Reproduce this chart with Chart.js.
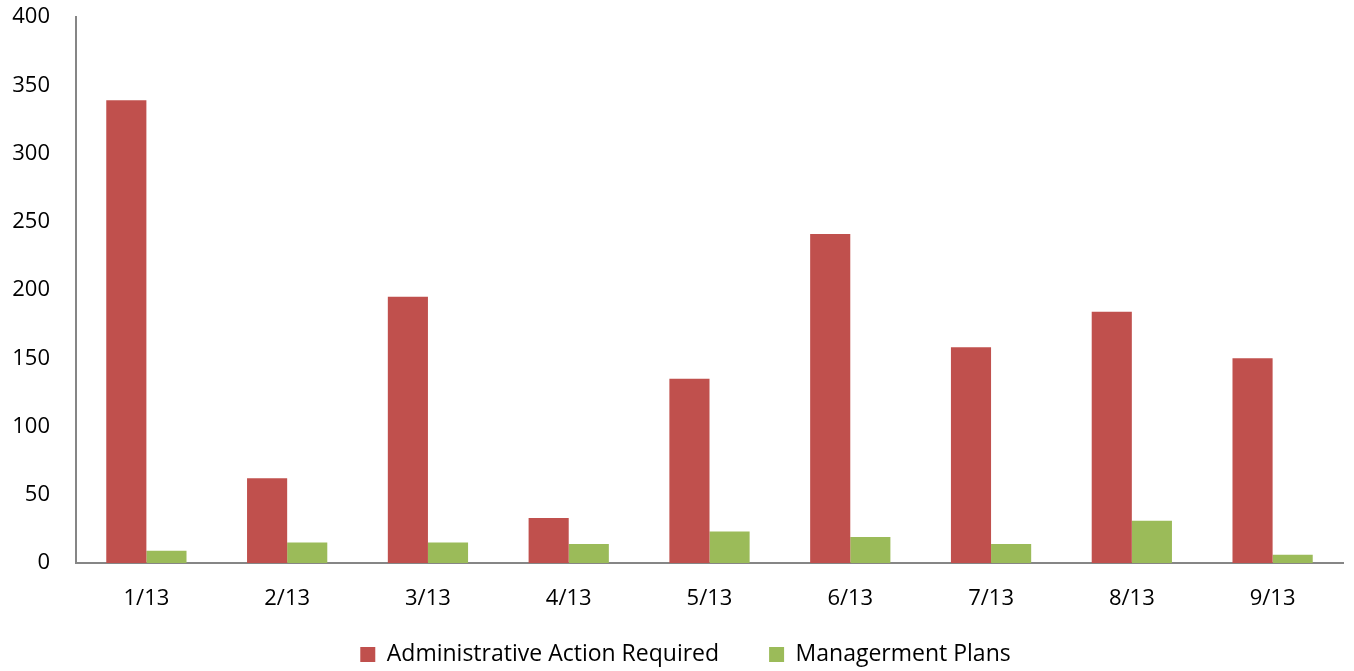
<!DOCTYPE html>
<html>
<head>
<meta charset="utf-8">
<script src="https://cdn.jsdelivr.net/npm/chart.js@4"></script>
<style>
  html, body { margin: 0; padding: 0; background: #fff; }
  #wrap { width: 1354px; height: 671px; }
</style>
</head>
<body>
<div id="wrap"><canvas id="chart"></canvas></div>
<script>
const months = ['1/13', '2/13', '3/13', '4/13', '5/13', '6/13', '7/13', '8/13', '9/13'];
const adminAction = [339, 62, 195, 33, 135, 241, 158, 184, 150];
const mgmtPlans = [9, 15, 15, 14, 23, 19, 14, 31, 6];
const yTicks = [0, 50, 100, 150, 200, 250, 300, 350, 400];

const FONT = "'Open Sans', sans-serif";

// Legend: keep the wide gap between items but a short box, and nudge it into place
const legendFix = {
    id: 'legendFix',
    beforeLayout(chart) {
        const lg = chart.legend;
        if (lg && !lg._patched) {
            const fit = lg.fit;
            lg.fit = function() {
                fit.call(this);
                this.height = 58;
            };
            const draw = lg.draw;
            lg.draw = function(area) {
                const top = this.top, left = this.left, right = this.right;
                this.top = top - 20;
                this.left = left + 14;
                this.right = right + 14;
                draw.call(this, area);
                this.top = top;
                this.left = left;
                this.right = right;
            };
            lg._patched = true;
        }
    }
};

const ctx = document.getElementById('chart').getContext('2d');
new Chart(ctx, {
    type: 'bar',
    data: {
        labels: months,
        datasets: [{
            label: 'Administrative Action Required',
            data: adminAction,
            backgroundColor: '#C0504D',
            borderWidth: 0
        }, {
            label: 'Managerment Plans',
            data: mgmtPlans,
            backgroundColor: '#9BBB59',
            borderWidth: 0
        }]
    },
    options: {
        responsive: true,
        maintainAspectRatio: false,
        animation: false,
        layout: {
            padding: { left: 0, right: 11, top: 17, bottom: 0 }
        },
        datasets: {
            bar: {
                categoryPercentage: 0.57,
                barPercentage: 1.0
            }
        },
        plugins: {
            tooltip: { enabled: false },
            legend: {
                position: 'bottom',
                labels: {
                    color: '#000',
                    font: { family: FONT, size: 23 },
                    boxWidth: 15,
                    boxHeight: 15,
                    padding: 50
                }
            }
        },
        scales: {
            x: {
                grid: { display: false, drawTicks: false },
                border: { display: true, color: '#868686', width: 2 },
                ticks: {
                    color: '#000',
                    font: { family: FONT, size: 22 },
                    padding: 23,
                    maxRotation: 0
                },
                afterFit: function(scale) {
                    scale.height = 50;
                    scale.paddingLeft = 0;
                    scale.paddingRight = 0;
                }
            },
            y: {
                min: 0,
                max: 400,
                grid: { display: false, drawTicks: false },
                border: { display: true, color: '#868686', width: 2 },
                afterBuildTicks: function(scale) {
                    scale.ticks = yTicks.map(v => ({ value: v }));
                },
                ticks: {
                    color: '#000',
                    font: { family: FONT, size: 22 },
                    padding: 26
                },
                afterFit: function(scale) {
                    scale.width = 76;
                    scale.paddingTop = 0;
                    scale.paddingBottom = 0;
                }
            }
        }
    },
    plugins: [legendFix]
});
</script>
</body>
</html>
